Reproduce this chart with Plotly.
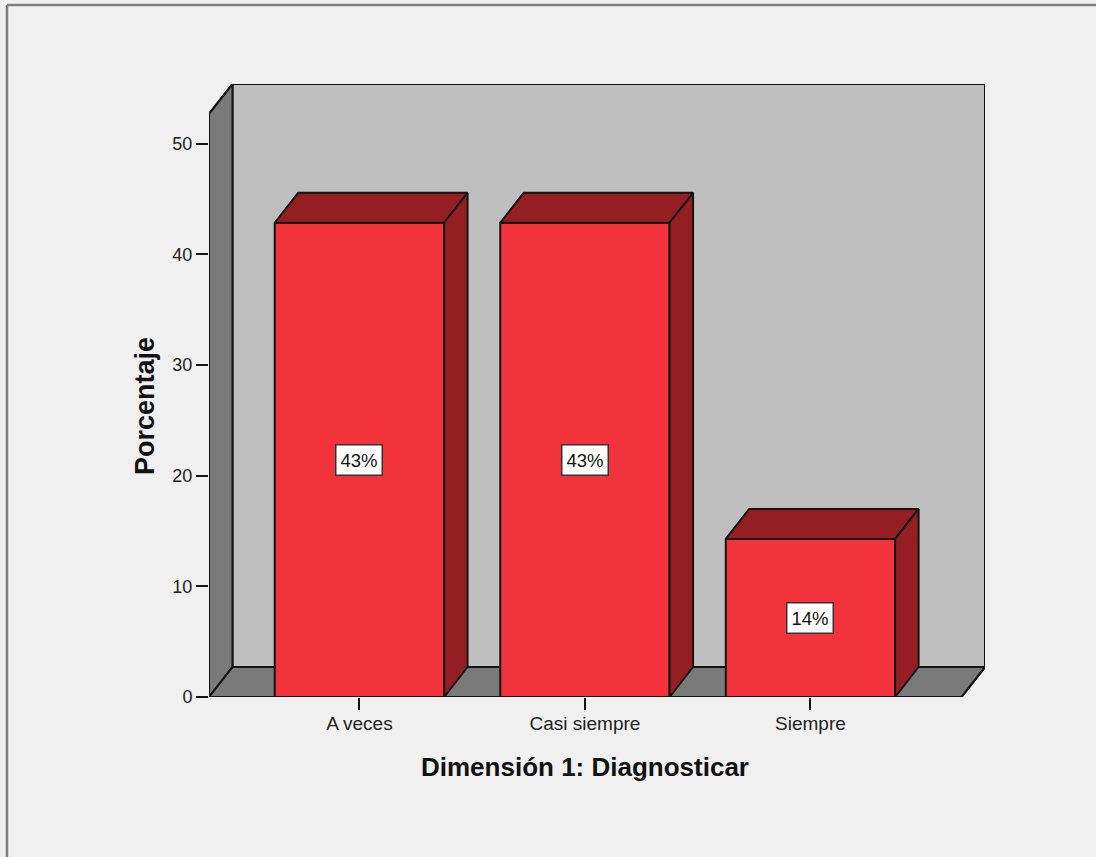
import plotly.graph_objects as go

categories = ["A veces", "Casi siempre", "Siempre"]
percent = [42.86, 42.86, 14.29]
labels = ["43%", "43%", "14%"]
y_ticks = [0, 10, 20, 30, 40, 50]
positions = [0, 1, 2]

W, H = 1096, 857
ML, MR, MT, MB = 209, 111, 84, 160
PW, PH = W - ML - MR, H - MT - MB
X_MIN, X_MAX = -0.667, 2.774
Y_TOP = 55.4
BAR_W = 0.751
DX, DY = 0.104, 2.71
X_FRONT = X_MAX - DX
Y_FRONT = Y_TOP - DY
EDGE = "#141414"
FACE, SHADE = "#f2333b", "#941e22"
WALL, SIDE = "#bfbfbf", "#7a7a7a"
BG = "#f0f0f0"
FONT = "Liberation Sans"


def poly(xs, ys, fill, edge=EDGE, width=2):
    return go.Scatter(x=xs + xs[:1], y=ys + ys[:1], mode="lines", fill="toself", fillcolor=fill,
                      line=dict(color=edge, width=width), hoverinfo="skip", showlegend=False,
                      cliponaxis=False)


def path(xs, ys):
    return "M " + " L ".join(f"{a},{b}" for a, b in zip(xs, ys)) + " Z"


shapes = []
for xs, ys, c in [
    ([X_MIN + DX, X_MAX, X_MAX, X_MIN + DX], [DY, DY, Y_TOP, Y_TOP], WALL),
    ([X_MIN, X_MIN + DX, X_MIN + DX, X_MIN], [0, DY, Y_TOP, Y_FRONT], SIDE),
    ([X_MIN, X_FRONT, X_MAX, X_MIN + DX], [0, 0, DY, DY], SIDE),
]:
    shapes.append(dict(type="path", path=path(xs, ys), xref="x", yref="y", layer="below",
                       fillcolor=c, line=dict(color=EDGE, width=2)))

# outer window frame (top and left)
fx = lambda p: (p - ML) / PW
fy = lambda p: 1 - (p - MT) / PH
shapes.append(dict(type="line", xref="paper", yref="paper", x0=fx(7), x1=fx(W), y0=fy(5), y1=fy(5),
                   line=dict(color="#7f7f7f", width=2.5)))
shapes.append(dict(type="line", xref="paper", yref="paper", x0=fx(7), x1=fx(7), y0=fy(5), y1=fy(H),
                   line=dict(color="#7f7f7f", width=2.5)))

fig = go.Figure()
fig.add_trace(go.Bar(x=positions, y=percent, width=BAR_W, marker=dict(color=FACE, line=dict(color=EDGE, width=2)),
                     showlegend=False, hovertext=categories))

for p, v in zip(positions, percent):
    a, b = p - BAR_W / 2, p + BAR_W / 2
    fig.add_trace(poly([a, b, b + DX, a + DX], [v, v, v + DY, v + DY], SHADE))
    fig.add_trace(poly([b, b + DX, b + DX, b], [0, DY, v + DY, v], SHADE))

# frame edges that sit on the plot boundary
fig.add_trace(go.Scatter(x=[X_MIN, X_MIN, X_MIN + DX, X_MAX, X_MAX, X_FRONT, X_MIN],
                         y=[0, Y_FRONT, Y_TOP, Y_TOP, DY, 0, 0], mode="lines",
                         line=dict(color=EDGE, width=2), hoverinfo="skip", showlegend=False, cliponaxis=False))

annotations = [
    dict(x=p, y=v / 2, text=t, showarrow=False, bgcolor="white", bordercolor="#333333", borderwidth=1.5,
         borderpad=4, font=dict(family=FONT, size=18.5, color="#111111"))
    for p, v, t in zip(positions, percent, labels)
]
annotations += [
    dict(xref="paper", yref="paper", x=fx(585), y=fy(767), xanchor="center", yanchor="middle",
         text="<b>Dimensión 1: Diagnosticar</b>",
         showarrow=False, font=dict(family=FONT, size=26, color="#111111")),
    dict(xref="paper", yref="paper", x=fx(145), y=fy(406), xanchor="center", yanchor="middle",
         text="<b>Porcentaje</b>", textangle=-90,
         showarrow=False, font=dict(family=FONT, size=27, color="#111111")),
]

fig.update_layout(
    width=W, height=H, margin=dict(l=ML, r=MR, t=MT, b=MB), paper_bgcolor=BG, plot_bgcolor=BG,
    shapes=shapes, annotations=annotations, showlegend=False, barmode="overlay",
    xaxis=dict(range=[X_MIN, X_MAX], tickvals=positions, ticktext=categories, ticks="outside", ticklen=12,
               tickwidth=1.5, tickcolor=EDGE, showgrid=False, zeroline=False, showline=False,
               ticklabelstandoff=-3, tickfont=dict(family=FONT, size=19, color="#222222")),
    yaxis=dict(range=[0, Y_TOP], tickvals=y_ticks, ticks="outside", ticklen=12, tickwidth=1.5, tickcolor=EDGE,
               showgrid=False, zeroline=False, showline=False,
               tickfont=dict(family=FONT, size=18, color="#222222")),
)

fig.write_html("out.html", config={"displayModeBar": False},
               post_script="document.body.style.margin='0';document.body.style.background='#f0f0f0';")
